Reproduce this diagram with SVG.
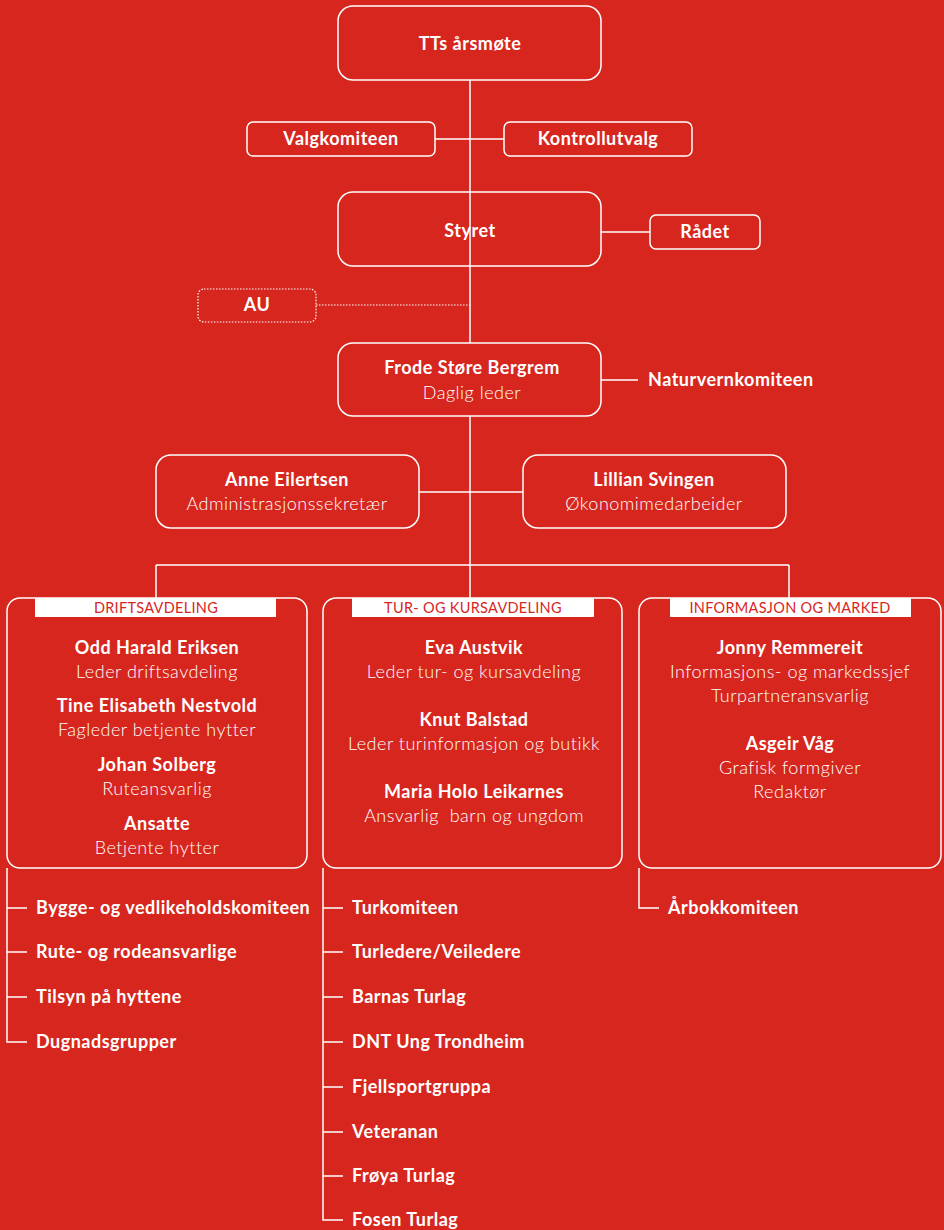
<svg xmlns="http://www.w3.org/2000/svg" width="944" height="1230" viewBox="0 0 944 1230">
<style>
.bx{fill:none;stroke:#fff;stroke-width:1.5}
.dot{fill:none;stroke:#fff;stroke-width:1.2;stroke-dasharray:1.5 1.5}
.ln{stroke:#fff;stroke-width:1.5;fill:none}
text{font-family:Lato,"Open Sans","Liberation Sans",sans-serif;fill:#fff;font-size:18px;letter-spacing:0.5px}
.b{font-weight:700}
.l{font-weight:300}
.c{text-anchor:middle}
.tag{fill:#D7261E;font-size:14.5px;font-weight:400;text-anchor:middle;letter-spacing:0.3px}
.bar{fill:#fff}
</style>
<rect width="944" height="1230" fill="#D7261E"/>
<g id="connectors">
<path class="ln" d="M470 80V343M435 139H504M601 232H650M470 416V565M419 492H523M601 380H638M156 565H789M156 565V598M470 565V598M789 565V598"/>
<path class="dot" d="M316 305H470"/>
<path class="ln" d="M7 868V1042H27M7 908H27M7 952H27M7 997H27"/>
<path class="ln" d="M323 868V1220H343M323 908H343M323 952H343M323 997H343M323 1042H343M323 1087H343M323 1132H343M323 1176H343"/>
<path class="ln" d="M639 868V908H659"/>
</g>
<g id="arsmote"><rect class="bx" x="338" y="6" width="263" height="74" rx="15"/><text class="b c" x="470" y="50">TTs årsmøte</text></g>
<g id="valgkomiteen"><rect class="bx" x="247" y="122" width="188" height="34" rx="6"/><text class="b c" x="341" y="145">Valgkomiteen</text></g>
<g id="kontrollutvalg"><rect class="bx" x="504" y="122" width="188" height="34" rx="6"/><text class="b c" x="598" y="145">Kontrollutvalg</text></g>
<g id="styret"><rect class="bx" x="338" y="192" width="263" height="74" rx="15"/><text class="b c" x="470" y="237">Styret</text></g>
<g id="radet"><rect class="bx" x="650" y="215" width="110" height="34" rx="6"/><text class="b c" x="705" y="238">Rådet</text></g>
<g id="au"><rect class="dot" x="198" y="289" width="118" height="33" rx="6"/><text class="b c" x="257" y="311">AU</text></g>
<g id="frode"><rect class="bx" x="338" y="343" width="263" height="73" rx="15"/><text class="b c" x="472" y="374">Frode Støre Bergrem</text><text class="l c" x="472" y="399">Daglig leder</text></g>
<g id="naturvern"><text class="b" x="648" y="386">Naturvernkomiteen</text></g>
<g id="anne"><rect class="bx" x="156" y="455" width="263" height="73" rx="15"/><text class="b c" x="287" y="486">Anne Eilertsen</text><text class="l c" x="287" y="510">Administrasjonssekretær</text></g>
<g id="lillian"><rect class="bx" x="523" y="455" width="263" height="73" rx="15"/><text class="b c" x="654" y="486">Lillian Svingen</text><text class="l c" x="654" y="510">Økonomimedarbeider</text></g>
<g id="drift">
<rect class="bx" x="7" y="598" width="300" height="270" rx="13"/>
<rect class="bar" x="35" y="598" width="241" height="19"/>
<text class="tag" x="156" y="613">DRIFTSAVDELING</text>
<text class="b c" x="157" y="654">Odd Harald Eriksen</text>
<text class="l c" x="157" y="678">Leder driftsavdeling</text>
<text class="b c" x="157" y="712">Tine Elisabeth Nestvold</text>
<text class="l c" x="157" y="736">Fagleder betjente hytter</text>
<text class="b c" x="157" y="771">Johan Solberg</text>
<text class="l c" x="157" y="795">Ruteansvarlig</text>
<text class="b c" x="157" y="830">Ansatte</text>
<text class="l c" x="157" y="854">Betjente hytter</text>
</g>
<g id="tur">
<rect class="bx" x="323" y="598" width="299" height="270" rx="13"/>
<rect class="bar" x="352" y="598" width="242" height="19"/>
<text class="tag" x="473" y="613">TUR- OG KURSAVDELING</text>
<text class="b c" x="474" y="654">Eva Austvik</text>
<text class="l c" x="474" y="678">Leder tur- og kursavdeling</text>
<text class="b c" x="474" y="726">Knut Balstad</text>
<text class="l c" x="474" y="750">Leder turinformasjon og butikk</text>
<text class="b c" x="474" y="798">Maria Holo Leikarnes</text>
<text class="l c" x="474" y="822" xml:space="preserve">Ansvarlig  barn og ungdom</text>
</g>
<g id="info">
<rect class="bx" x="639" y="598" width="302" height="270" rx="13"/>
<rect class="bar" x="670" y="598" width="241" height="19"/>
<text class="tag" x="790" y="613">INFORMASJON OG MARKED</text>
<text class="b c" x="790" y="654">Jonny Remmereit</text>
<text class="l c" x="790" y="678">Informasjons- og markedssjef</text>
<text class="l c" x="790" y="702">Turpartneransvarlig</text>
<text class="b c" x="790" y="750">Asgeir Våg</text>
<text class="l c" x="790" y="774">Grafisk formgiver</text>
<text class="l c" x="790" y="798">Redaktør</text>
</g>
<g id="drift-list">
<text class="b" x="36" y="914">Bygge- og vedlikeholdskomiteen</text>
<text class="b" x="36" y="958">Rute- og rodeansvarlige</text>
<text class="b" x="36" y="1003">Tilsyn på hyttene</text>
<text class="b" x="36" y="1048">Dugnadsgrupper</text>
</g>
<g id="tur-list">
<text class="b" x="352" y="914">Turkomiteen</text>
<text class="b" x="352" y="958">Turledere/Veiledere</text>
<text class="b" x="352" y="1003">Barnas Turlag</text>
<text class="b" x="352" y="1048">DNT Ung Trondheim</text>
<text class="b" x="352" y="1093">Fjellsportgruppa</text>
<text class="b" x="352" y="1138">Veteranan</text>
<text class="b" x="352" y="1182">Frøya Turlag</text>
<text class="b" x="352" y="1226">Fosen Turlag</text>
</g>
<g id="info-list">
<text class="b" x="668" y="914">Årbokkomiteen</text>
</g>
</svg>
